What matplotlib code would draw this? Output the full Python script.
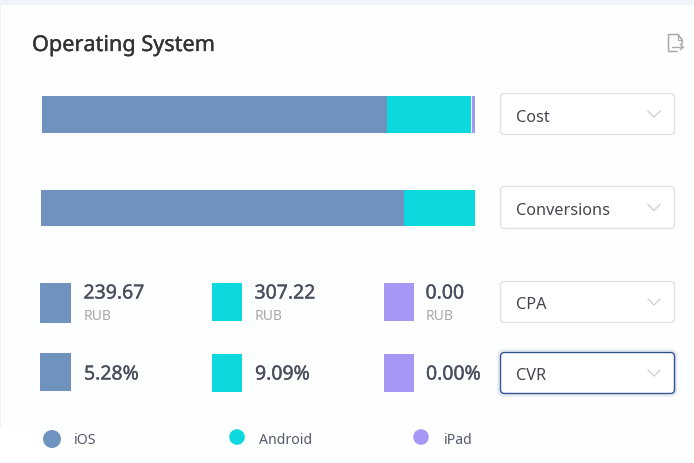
#!/usr/bin/python3
import matplotlib
matplotlib.use('Agg')
import matplotlib.pyplot as plt
import matplotlib.patheffects as pe
from matplotlib.patches import FancyBboxPatch, Rectangle, Circle

plt.rcParams['font.family'] = ['Noto Sans', 'DejaVu Sans']

oses = ['iOS', 'Android', 'iPad']
varit = ['#7092be', '#0bd9de', '#a598f5']
cost_osuus = [79.7, 19.4, 0.8]
conv_osuus = [83.6, 16.4, 0.0]
cpa = ['239.67', '307.22', '0.00']
cvr = ['5.28%', '9.09%', '0.00%']
valinnat = ['Cost', 'Conversions', 'CPA', 'CVR']

L, K = 694, 464
fig = plt.figure(figsize=(L/100, K/100), dpi=100, facecolor='#ffffff')
ax = fig.add_axes([0, 0, 1, 1])
ax.set_xlim(0, L)
ax.set_ylim(K-1, -1)
ax.axis('off')

# kortin tausta
ax.add_patch(Rectangle((0, -1), L, 429, fc='#f0f3f8', ec='none'))
ax.add_patch(FancyBboxPatch((5, 5), L, 440, boxstyle='round,pad=0,rounding_size=4',
                            fc='#fdfefe', ec='none', zorder=1))
ax.add_patch(Rectangle((1, 5), 6, 423, fc='#fdfefe', ec='none', zorder=1))
ax.add_patch(Rectangle((0, 428), L, 36, fc='#ffffff', ec='none', zorder=1))
ax.add_patch(Rectangle((40, 428), L-40, 36, fc='#fdfefe', ec='none', zorder=1))


# lihavointi, koska fontista puuttuu puolilihava leikkaus
def vahva(vari, lw=0.25):
    return [pe.withStroke(linewidth=lw, foreground=vari)]


ax.text(32, 45.5, 'Operating System', fontsize=15.6, color='#333333', va='center',
        path_effects=vahva('#333333'), zorder=3)

# vientikuvake
ikoni = '#a6a9ad'
ax.plot([677, 668.5, 668.5, 678, 682, 682], [51.5, 51.5, 34.5, 34.5, 39.5, 44], color=ikoni, lw=1.1, zorder=3)
ax.plot([678, 678, 682], [34.5, 39.5, 39.5], color=ikoni, lw=0.9, zorder=3)
ax.plot([672, 683], [47, 47], color=ikoni, lw=1.0, zorder=3)
ax.plot([680.5, 683, 680.5], [44.5, 47, 49.5], color=ikoni, lw=1.0, zorder=3)


def palkki(x0, x1, y0, y1, osuudet):
    pax = fig.add_axes([x0/L, 1-(y1+1)/K, (x1-x0)/L, (y1-y0)/K])
    pax.set_xlim(0, 100)
    pax.set_ylim(0, 1)
    pax.axis('off')
    pax.patch.set_alpha(0)
    alku = 0
    for i, osuus in enumerate(osuudet):
        if osuus > 0:
            if i == 2:
                alku = 100-osuus
            pax.barh(0.5, osuus, left=alku, height=1, color=varit[i], linewidth=0)
        alku += osuus


palkki(42, 475, 96, 133, cost_osuus)
palkki(41, 475, 190, 226, conv_osuus)

# mittarit
sx = [40, 212, 384]
tx = [84, 255, 426]
for i in range(3):
    kork = 40 if i == 0 else 38
    lev = 31 if i == 0 else 30
    ax.add_patch(Rectangle((sx[i], 283), lev, kork, fc=varit[i], ec='none', zorder=2))
    ax.add_patch(Rectangle((sx[i], 353 if i == 0 else 354), lev, 38, fc=varit[i], ec='none', zorder=2))
    ax.text(tx[i]-0.5, 293.5, cpa[i], fontsize=14, color='#4a4f60', va='center',
            path_effects=vahva('#4a4f60'), zorder=3)
    ax.text(tx[i], 316, 'RUB', fontsize=10, color='#a8a8a8', va='center', zorder=3)
    ax.text(tx[i], 374.5, cvr[i], fontsize=14, color='#4a4f60', va='center',
            path_effects=vahva('#4a4f60'), zorder=3)

# valintalaatikot
laatikot = [(93, 135), (186, 229), (281, 323), (352, 394)]
for n, (y0, y1) in enumerate(laatikot):
    aktiivinen = n == 3
    if aktiivinen:
        ax.add_patch(FancyBboxPatch((498.5, y0-1.5), 177.5, y1-y0+3, boxstyle='round,pad=0,rounding_size=5',
                                    fc='none', ec='#e3e8f2', lw=1.6, zorder=2))
    ax.add_patch(FancyBboxPatch((500.5, y0+0.5), 174, y1-y0-1, boxstyle='round,pad=0,rounding_size=4',
                                fc='#ffffff', ec='#2f5290' if aktiivinen else '#dfe3e8', lw=1.0, zorder=3))
    ym = (y0+y1)/2
    ax.text(516.5, ym+2.5, valinnat[n], fontsize=11.7, color='#41464f', va='center', zorder=4)
    ax.plot([648, 654, 660], [ym-3, ym+3, ym-3], color='#cfd2d6', lw=1.0, zorder=4)

# selite
lx = [52, 237, 421]
ltx = [74, 259, 444]
ly = [439, 437, 437]
for i in range(3):
    r = 9 if i == 0 else 7.8
    ax.add_patch(Circle((lx[i], ly[i]), r, fc=varit[i], ec='none', zorder=3))
    ax.text(ltx[i], 440, oses[i], fontsize=10.1, color='#555a6b', va='center', zorder=3)

fig.savefig('out.png', dpi=100)
